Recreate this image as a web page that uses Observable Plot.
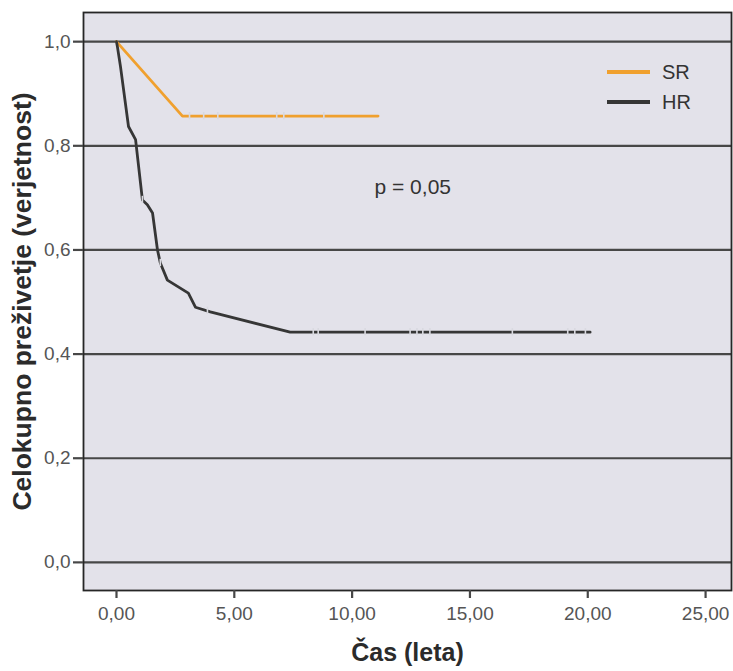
<!DOCTYPE html>
<html>
<head>
<meta charset="utf-8">
<script src="https://cdn.jsdelivr.net/npm/d3@7"></script>
<script src="https://cdn.jsdelivr.net/npm/@observablehq/plot@0.6"></script>
<style>
  html, body { margin: 0; padding: 0; background: #fff; }
  #wrap { position: relative; width: 733px; height: 671px; font-family: "Liberation Sans", Arial, sans-serif; }
  #legend { position: absolute; left: 607px; top: 57px; font-size: 20px; color: #333; }
  .item { display: flex; align-items: center; height: 30px; }
  .sw { width: 43px; height: 3.5px; margin-right: 12px; }
</style>
</head>
<body>
<div id="wrap"></div>
<script>
// ---- data ----
const yTicks = [0, 0.2, 0.4, 0.6, 0.8, 1.0];
const xTicks = [0, 5, 10, 15, 20, 25];

const seriesNames = ["SR", "HR"];
const seriesColors = ["#f0a02e", "#363636"];

const srTime = [0, 2.8, 11.1];
const srSurv = [1.0, 0.857, 0.857];
const srCensorTime = [3.1, 3.7, 4.3, 6.8, 7.1, 8.8];
const srCensorSurv = [0.857, 0.857, 0.857, 0.857, 0.857, 0.857];

const hrTime = [0, 0.04, 0.17, 0.51, 0.81, 1.10, 1.31, 1.53, 1.74, 1.86, 2.16, 3.05, 3.35, 3.98, 7.37, 20.1];
const hrSurv = [1.0, 0.99, 0.952, 0.837, 0.812, 0.696, 0.687, 0.671, 0.60, 0.575, 0.542, 0.517, 0.490, 0.481, 0.442, 0.442];
const hrCensorTime = [1.10, 1.86, 3.86, 8.35, 8.56, 10.55, 12.46, 12.75, 13.0, 13.3, 16.8, 19.15, 19.45, 19.9];
const hrCensorSurv = [0.696, 0.575, 0.483, 0.442, 0.442, 0.442, 0.442, 0.442, 0.442, 0.442, 0.442, 0.442, 0.442, 0.442];

const pText = "p = 0,05";
const xLabel = "Čas (leta)";
const yLabel = "Celokupno preživetje (verjetnost)";

// ---- build tables ----
const sr = srTime.map((t, i) => ({t, s: srSurv[i]}));
const hr = hrTime.map((t, i) => ({t, s: hrSurv[i]}));
const censors = [
  ...srCensorTime.map((t, i) => ({t, s: srCensorSurv[i]})),
  ...hrCensorTime.map((t, i) => ({t, s: hrCensorSurv[i]}))
];

const loc = d3.formatLocale({decimal: ",", thousands: ".", grouping: [3], currency: ["", ""]});
const f1 = loc.format(".1f");
const f2 = loc.format(".2f");

const font = "'Liberation Sans', Arial, sans-serif";

const chart = Plot.plot({
  width: 733,
  height: 671,
  marginLeft: 83,
  marginRight: 2,
  marginTop: 12,
  marginBottom: 81,
  style: {fontFamily: font, background: "white"},
  x: {domain: [-1.4, 26.1], axis: null},
  y: {domain: [-0.054, 1.056], axis: null},
  marks: [
    Plot.frame({fill: "#e3e2ea", stroke: "none"}),
    Plot.ruleY(yTicks, {stroke: "#474747", strokeWidth: 2.2}),
    Plot.line(sr, {x: "t", y: "s", stroke: seriesColors[0], strokeWidth: 2.8}),
    Plot.line(hr, {x: "t", y: "s", stroke: seriesColors[1], strokeWidth: 2.8, curve: "linear"}),
    Plot.ruleX(censors, {x: "t", y1: d => d.s - 0.007, y2: d => d.s + 0.007, stroke: "#d9d9e0", strokeWidth: 1.6}),
    Plot.frame({stroke: "#262626", strokeWidth: 1.8}),
    Plot.axisY(yTicks, {tickSize: 10, tickPadding: 3, tickFormat: f1, fontSize: 19, stroke: "#474747", strokeWidth: 2.2, fill: "#555", label: null}),
    Plot.axisX(xTicks, {tickSize: 8, tickPadding: 8, tickFormat: f2, fontSize: 19, stroke: "#474747", strokeWidth: 2.2, fill: "#555", label: null}),
    Plot.text([pText], {frameAnchor: "top-left", dx: 291, dy: 175, textAnchor: "start", lineAnchor: "middle", fontSize: 21, fill: "#333"}),
    Plot.text([xLabel], {frameAnchor: "bottom", dy: 62, lineAnchor: "middle", textAnchor: "middle", fontSize: 25, fontWeight: "bold", fill: "#2b2b2b"}),
    Plot.text([yLabel], {frameAnchor: "left", dx: -61, rotate: -90, textAnchor: "middle", lineAnchor: "middle", fontSize: 26.5, fontWeight: "bold", fill: "#2b2b2b"})
  ]
});

const wrap = document.getElementById("wrap");
wrap.appendChild(chart);

const legend = document.createElement("div");
legend.id = "legend";
seriesNames.forEach((n, i) => {
  const it = document.createElement("div");
  it.className = "item";
  const sw = document.createElement("span");
  sw.className = "sw";
  sw.style.background = seriesColors[i];
  const tx = document.createElement("span");
  tx.textContent = n;
  it.appendChild(sw);
  it.appendChild(tx);
  legend.appendChild(it);
});
wrap.appendChild(legend);
</script>
</body>
</html>
